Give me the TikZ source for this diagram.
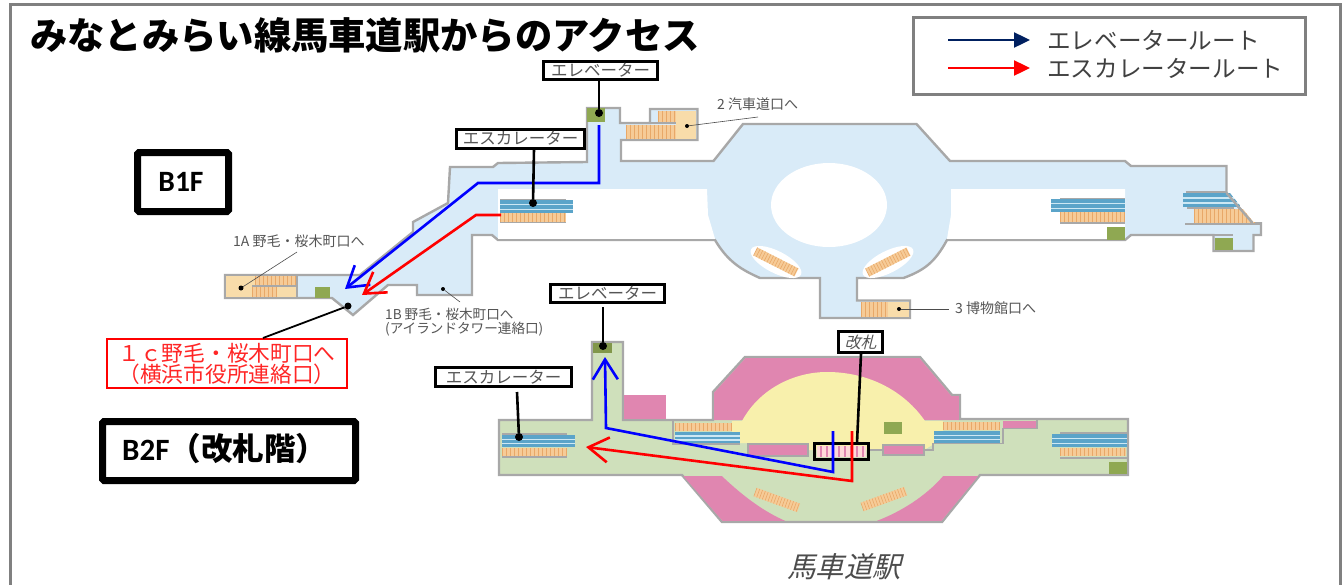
\documentclass[tikz,border=0pt]{standalone}
\usepackage{fontspec}
\usetikzlibrary{arrows.meta}
\setmainfont{Noto Sans CJK JP}
\newfontfamily\jpslant[FakeSlant=0.25]{Noto Sans CJK JP}
\newfontfamily\latinb{Carlito}[BoldFont=Carlito Bold]
\definecolor{gline}{HTML}{A8A8A8}
\definecolor{bfloor}{HTML}{D9EBF8}
\definecolor{gfloor}{HTML}{CFE0BB}
\definecolor{pinkc}{HTML}{E086B0}
\definecolor{yel}{HTML}{F8F0AC}
\definecolor{beige}{HTML}{F8DCAA}
\definecolor{stair}{HTML}{F6CB97}
\definecolor{stairl}{HTML}{E8A868}
\definecolor{esc}{HTML}{5BA4C9}
\definecolor{escl}{HTML}{CDE8F4}
\definecolor{elev}{HTML}{8FA852}
\definecolor{navyc}{HTML}{002060}
\definecolor{routeb}{HTML}{0000FF}
\definecolor{txt}{HTML}{555555}
\newcommand{\stairrect}[4]{%
  \fill[stair] (#1,#2) rectangle (#3,#4);
  \foreach \xx in {#1,\numexpr#1+4\relax,...,#3} {\draw[stairl,line width=.7pt] (\xx,#2) -- (\xx,#4);}
}
\newcommand{\escrect}[4]{%
  \fill[esc] (#1,#2) rectangle (#3,#4);
  \fill[escl] (#1,{#2+(#4-#2)*0.30}) rectangle (#3,{#2+(#4-#2)*0.42});
  \fill[escl] (#1,{#2+(#4-#2)*0.66}) rectangle (#3,{#2+(#4-#2)*0.78});
}
\newcommand{\slantstair}[3]{%
  \begin{scope}[shift={(#1,#2)},rotate=#3]
    \fill[stair] (-23,-4.5) rectangle (23,4.5);
    \foreach \xx in {-23,-20,...,23} {\draw[stairl,line width=.6pt] (\xx,-4.5) -- (\xx,4.5);}
  \end{scope}
}
\tikzset{
  outl/.style={draw=gline,line width=2.4pt,line join=miter},
  lab/.style={draw=black,line width=3pt,fill=white,inner sep=0pt,text=txt,font=\fontsize{16.5}{17}\selectfont},
  dot/.style={circle,fill=black,inner sep=0pt,minimum size=8pt},
  sdot/.style={circle,fill=black,inner sep=0pt,minimum size=4pt},
  leader/.style={draw=black,line width=2.6pt},
  thin leader/.style={draw=black!70,line width=.6pt},
  small/.style={text=txt,inner sep=0pt,anchor=west,font=\fontsize{14}{15}\selectfont},
  smaller/.style={small,font=\fontsize{13.6}{14}\selectfont},
  floorlab/.style={draw=black,line width=7pt,rounded corners=1.5pt,fill=white,inner sep=0pt},
  routeB/.style={draw=routeb,line width=2.6pt,line join=miter,-{Straight Barb[length=20pt,width=25pt,line width=2.6pt]}},
  routeR/.style={draw=red,line width=2.6pt,line join=miter,-{Straight Barb[length=20pt,width=25pt,line width=2.6pt]}},
  legendarrow/.style={line width=2.4pt,-{Triangle[length=16pt,width=15pt]}}
}
\begin{document}
\begin{tikzpicture}[x=1pt,y=-1pt]
\useasboundingbox (0,0) rectangle (1342,584);
\fill[white] (0,0) rectangle (1342,584);
% outer frame
\draw[draw=black!50,line width=2.6pt] (10.5,590) -- (10.5,4.5) -- (1340.5,4.5) -- (1340.5,590);
% title
\node[anchor=west,inner sep=0pt,font=\bfseries\fontsize{37.3}{38}\selectfont] (title) at (30,35) {みなとみらい線馬車道駅からのアクセス};
% legend
\node[draw=black!50,line width=2.6pt,fill=white,minimum width=392pt,minimum height=77pt,inner sep=0pt] (legend) at (1109.5,56) {};
\coordinate (la) at (948,40); \coordinate (lb) at (1030,40);
\coordinate (lc) at (948,68); \coordinate (ld) at (1030,68);
\draw[legendarrow,draw=navyc,fill=navyc] (la) -- (lb);
\draw[legendarrow,draw=red,fill=red] (lc) -- (ld);
\node[anchor=west,inner sep=0pt,text=black!75,font=\fontsize{23.6}{24}\selectfont] (lt1) at (1047,40) {エレベータールート};
\node[anchor=west,inner sep=0pt,text=black!75,font=\fontsize{23.6}{24}\selectfont] (lt2) at (1047,68) {エスカレータールート};
% ---------- B1F floor
\path[outl,fill=bfloor] (587,108) -- (620,108) -- (620,123) -- (650,123) -- (650,109) -- (697.5,109) -- (697.5,140) -- (621,140) -- (621,161) -- (713.5,161) -- (743,124) -- (916.5,124) -- (950,161) -- (1125,161) -- (1131,166) -- (1226.5,166) -- (1226.5,193) -- (1252.5,223) -- (1261,223) -- (1261,235) -- (1253.5,235) -- (1253.5,251) -- (1213.5,251) -- (1213.5,235) -- (1131,235) -- (1125,240) -- (947,240) .. controls (935,262) and (925,270) .. (903.5,278) -- (857,278) -- (857,300.5) -- (910,300.5) -- (910,318) -- (820,318) -- (820,278) -- (760,278) .. controls (742,270) and (728,262) .. (715,240) -- (498,240) -- (492,235) -- (472,235) -- (472,295) -- (417,295) -- (417,285) -- (388,285) -- (353,315) -- (332,298) -- (225,298) -- (225,275) -- (360,275) -- (413,232) -- (413,222) -- (448,203) -- (450,167) -- (493,167) -- (498,163) -- (587,162) -- cycle;
\fill[white] (498,189) -- (707,189) -- (708,215) -- (715,238.8) -- (498,238.8) -- cycle;
\fill[white] (951,189) -- (1125,189) -- (1125,238.8) -- (947,238.8) -- (951,215) -- cycle;
\fill[white] (829,205) ellipse (58 and 42);
% well ellipses
\fill[white,rotate around={-27:(776,262)}] (776,262) ellipse (28 and 11);
\fill[white,rotate around={27:(888,262)}] (888,262) ellipse (28 and 11);
\slantstair{776}{262}{-27}
\slantstair{888}{262}{27}
% exit 2
\fill[beige] (676,110.5) rectangle (696.3,138.8);
\stairrect{626}{124.5}{676}{138.8}
\stairrect{658}{110.5}{676}{122.5}
\draw[gline,line width=1.8pt] (650,123) -- (676,123);
% exit 3
\fill[beige] (888,302) rectangle (908.8,316.8);
\stairrect{861}{302}{888}{316.8}
% 1A
\fill[beige] (226.2,276.2) rectangle (296,296.8);
\stairrect{255}{276.2}{295}{285}
\stairrect{252}{287}{277}{296.8}
\draw[gline,line width=2pt] (297,275) -- (297,298);
\draw[gline,line width=2pt] (252,286) -- (297,286);
\fill[elev] (315,287) rectangle (330,298);
% escalators B1F
\escrect{500}{200}{573}{213}
\stairrect{500}{213}{566}{222}
\draw[gline,line width=1.5pt] (500,199.5) -- (566,199.5);
\draw[gline,line width=1.5pt] (500,222.5) -- (566,222.5);
\escrect{1051}{199}{1125}{212}
\stairrect{1060}{212}{1125}{222}
\draw[gline,line width=1.5pt] (1060,198.5) -- (1125,198.5);
\draw[gline,line width=1.8pt] (1060,223) -- (1125,223);
\fill[elev] (1107,227) rectangle (1125,240);
\escrect{1183}{193}{1240}{207}
\draw[gline,line width=1.8pt] (1187,208) -- (1234,208);
\stairrect{1194}{209}{1254}{223}
\fill[white] (1227.7,190) -- (1264,190) -- (1264,221.8) -- (1253.5,221.8) -- cycle;
\draw[gline,line width=2.4pt] (1226.5,193) -- (1252.5,223);
\draw[gline,line width=1.8pt] (1186,192) -- (1226.5,192);
\draw[gline,line width=2.2pt] (1185,224) -- (1261,224);
\fill[elev] (1214.7,238) rectangle (1233,249.8);
\draw[gline,line width=2pt] (1131,235) -- (1233,235);
\fill[elev] (587,108) rectangle (605,122);
% ---------- B2F floor
\path[outl,fill=gfloor] (592,342) -- (623,342) -- (623,420) -- (713,420) -- (713,392) -- (745,357) -- (920,357) -- (952,395) -- (960,395) -- (960,419) -- (1128,419) -- (1128,475) -- (980,475) -- (942,522) -- (722,522) -- (682,475) -- (499,475) -- (499,420) -- (592,420) -- cycle;
\fill[pinkc] (714.2,392.5) -- (745.5,358.2) -- (919.5,358.2) -- (951.5,396.2) -- (958.8,396.2) -- (958.8,420) -- (714.2,420) -- cycle;
\fill[pinkc] (624,395) rectangle (666,419);
\fill[pinkc] (683.5,476.2) -- (722.5,520.8) -- (785,520.8) .. controls (765,512) and (745,498) .. (722,476.2) -- cycle;
\fill[pinkc] (877,520.8) -- (941.5,520.8) -- (978,476.2) -- (943,476.2) .. controls (925,497) and (900,512) .. (877,520.8) -- cycle;
\fill[yel] (732,421) -- (742,421) .. controls (760,388) and (795,372) .. (827,372) .. controls (870,372) and (905,392) .. (925,421) -- (943,421) -- (943,431) -- (934,431) -- (934,444) -- (924,450) -- (808,450) -- (808,443) -- (740,443) -- (740,432) -- (732,432) -- cycle;
% pink boxes in the concourse
\draw[gline,line width=2pt,fill=pinkc] (748,444) rectangle (808,455.5);
\draw[gline,line width=2pt,fill=pinkc] (883,445) rectangle (924,454.5);
\draw[gline,line width=1.8pt] (924,450) -- (933,450) -- (933,443.5) -- (1003,443.5) -- (1003,428.5) -- (1037,428.5) -- (1037,420);
\draw[gline,line width=1.8pt] (870,450) -- (883,450);
\fill[pinkc] (1003,421) rectangle (1036,427.5);
% stairs
\draw[gline,line width=1.8pt] (673,420) -- (673,444) -- (740,444);
\stairrect{675}{423}{731}{431}
\escrect{675}{432}{740}{443}
\stairrect{943}{422}{1000}{430}
\escrect{934}{431}{1000}{443}
\escrect{502}{435}{575}{447}
\stairrect{502}{448}{567}{456}
\draw[gline,line width=1.5pt] (502,434) -- (567,434);
\draw[gline,line width=1.5pt] (502,457) -- (567,457);
\escrect{1052}{434}{1127}{447}
\stairrect{1060}{448}{1126}{456}
\draw[gline,line width=1.5pt] (1060,433) -- (1127,433);
\draw[gline,line width=1.5pt] (1060,458) -- (1127,458);
\fill[elev] (1109,462) rectangle (1127,474);
\fill[elev] (884,422) rectangle (902,434);
\fill[elev!90!black] (593.2,343.2) rectangle (612,353);
\slantstair{777}{500}{-20}
\slantstair{884}{499}{20}
% ticket gates
\fill[pink!60!white] (817,446) rectangle (866,457);
\foreach \gx in {820,826,...,865} {\fill[pinkc] (\gx,446) rectangle ++(2,11);}
\node[draw=black,line width=3pt,minimum width=54pt,minimum height=16pt,inner sep=0pt] (gate) at (841.5,451.5) {};
% ---------- routes
\coordinate (b1) at (599,125); \coordinate (b2) at (599,183); \coordinate (b3) at (478,183); \coordinate (b4) at (345,289);
\coordinate (r1) at (501,215); \coordinate (r2) at (476,215); \coordinate (r3) at (362,295);
\coordinate (c1) at (833,431); \coordinate (c2) at (833,472); \coordinate (c3) at (606,428); \coordinate (c4) at (605,357);
\coordinate (s1) at (852,431); \coordinate (s2) at (852,481); \coordinate (s3) at (586,447);
\draw[routeB] (b1) -- (b2) -- (b3) -- (b4);
\draw[routeR] (r1) -- (r2) -- (r3);
\draw[routeB] (c1) -- (c2) -- (c3) -- (c4);
\draw[routeR] (s1) -- (s2) -- (s3);
% ---------- labels with leaders
\node[dot] (d1) at (599,113) {};
\node[lab,minimum width=114pt,minimum height=18pt] (l1) at (600.5,70.5) {エレベーター};
\draw[leader] (d1 |- l1.south) -- (d1);
\node[dot] (d2) at (533,203) {};
\node[lab,minimum width=128pt,minimum height=19pt] (l2) at (520.5,138.5) {エスカレーター};
\draw[leader] (534,149) -- (d2);
\node[dot] (d3) at (603,346) {};
\node[lab,minimum width=114pt,minimum height=18pt] (l3) at (607.5,293.5) {エレベーター};
\draw[leader] (603,307) -- (d3);
\node[dot] (d4) at (519,437) {};
\node[lab,minimum width=136pt,minimum height=19pt] (l4) at (503.5,377) {エスカレーター};
\draw[leader] (517,392) -- (d4);
\node[lab,minimum width=44pt,minimum height=21pt,font=\jpslant\fontsize{16}{17}\selectfont] (l5) at (860.5,342) {改札};
\draw[leader] (861,354) -- (857,443);
% red label
\node[dot,minimum size=7pt] (d5) at (348,306) {};
\node[draw=red,line width=2.6pt,fill=white,minimum width=240pt,minimum height=49pt,inner sep=0pt,align=left,text=red!85!white,font=\fontsize{21.7}{19.5}\selectfont] (l6) at (227,363.5) {１ｃ野毛・桜木町口へ\\[-.5pt]（横浜市役所連絡口）};
\draw[draw=black,line width=1.8pt] (263,338) -- (d5);
% small labels
\node[sdot] (d6) at (687,126) {};
\node[small] (t6) at (717,104) {2 汽車道口へ};
\draw[thin leader] (d6) -- (758,117);
\node[sdot] (d7) at (899,309) {};
\node[small] (t7) at (955,308) {3 博物館口へ};
\draw[thin leader] (d7) -- (949,309);
\node[sdot,minimum size=5pt] (d8) at (241,288) {};
\node[small] (t8) at (233,241) {1A 野毛・桜木町口へ};
\draw[thin leader] (d8) -- (297,252);
\node[sdot] (d9) at (443,289) {};
\node[smaller] (t9) at (385,314.5) {1B 野毛・桜木町口へ};
\node[smaller] (t10) at (385,329.5) {(アイランドタワー連絡口)};
\draw[thin leader] (d9) -- (460,302);
% floor labels
\node[floorlab,minimum width=91pt,minimum height=59pt] (f1) at (183,182) {};
\node[inner sep=0pt,font=\latinb\bfseries\fontsize{29.5}{30}\selectfont] (f1t) at (181,182) {B1F};
\node[floorlab,minimum width=253pt,minimum height=59pt] (f2) at (229,451) {};
\node[anchor=west,inner sep=0pt,font=\bfseries\fontsize{31.5}{32}\selectfont] (f2t) at (122,449) {{\latinb\fontsize{31}{32}\selectfont B2F}（改札階）};
% station name
\node[anchor=west,inner sep=0pt,text=black!70,font=\jpslant\fontsize{28.5}{29}\selectfont] (st) at (787,567) {馬車道駅};
\end{tikzpicture}
\end{document}
